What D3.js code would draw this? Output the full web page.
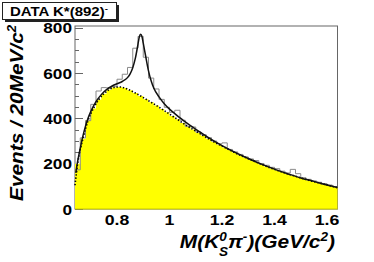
<!DOCTYPE html>
<html>
<head>
<meta charset="utf-8">
<script src="https://cdn.jsdelivr.net/npm/d3@7"></script>
<style>
  html, body { margin: 0; padding: 0; background: #fff; }
  svg { display: block; font-family: "Liberation Sans", Arial, sans-serif; }
</style>
</head>
<body>
<div id="chart"></div>
<script>
// 20 MeV bins, lower edges (GeV/c^2)
const binLow = [0.64, 0.66, 0.68, 0.70, 0.72, 0.74, 0.76, 0.78, 0.80, 0.82,
                0.84, 0.86, 0.88, 0.90, 0.92, 0.94, 0.96, 0.98, 1.00, 1.02,
                1.04, 1.06, 1.08, 1.10, 1.12, 1.14, 1.16, 1.18, 1.20, 1.22,
                1.24, 1.26, 1.28, 1.30, 1.32, 1.34, 1.36, 1.38, 1.40, 1.42,
                1.44, 1.46, 1.48, 1.50, 1.52, 1.54, 1.56, 1.58, 1.60, 1.62];
const binWidth = 0.02;

// data: events per bin
const counts = [173, 314, 390, 462, 521, 536, 535, 542, 573, 595,
                625, 710, 762, 670, 578, 530, 484, 449, 427, 436,
                392, 365, 362, 340, 328, 315, 300, 288, 292, 263,
                252, 241, 230, 221, 214, 201, 193, 184, 178, 167,
                159, 175, 156, 138, 131, 124, 118, 112, 106, 99];

// background fit (dotted, yellow): end points + bin centres
const bgMass = [0.64, 0.65, 0.67, 0.69, 0.71, 0.73, 0.75, 0.77, 0.79, 0.81, 0.83,
                0.85, 0.87, 0.89, 0.91, 0.93, 0.95, 0.97, 0.99, 1.01, 1.03,
                1.05, 1.07, 1.09, 1.11, 1.13, 1.15, 1.17, 1.19, 1.21, 1.23,
                1.25, 1.27, 1.29, 1.31, 1.33, 1.35, 1.37, 1.39, 1.41, 1.43,
                1.45, 1.47, 1.49, 1.51, 1.53, 1.55, 1.57, 1.59, 1.61, 1.63, 1.64];
const bgValue = [105, 200, 310, 392, 444, 482, 509, 527, 537, 539, 534,
                 524, 512, 499, 485, 471, 457, 442, 427, 411, 396,
                 380, 365, 351, 337, 323, 309, 296, 284, 272, 260,
                 248, 237, 227, 217, 207, 197, 188, 179, 171, 163,
                 155, 148, 141, 134, 127, 121, 115, 109, 103, 97, 94];

// total fit, signal + background (solid)
const fitMass = [0.643, 0.65, 0.66, 0.67, 0.68, 0.69, 0.70, 0.72, 0.74, 0.76,
                 0.78, 0.80, 0.82, 0.84, 0.85, 0.86, 0.87, 0.88, 0.885, 0.89,
                 0.895, 0.90, 0.91, 0.92, 0.93, 0.94, 0.96, 0.98, 1.00, 1.02,
                 1.04, 1.06, 1.08, 1.10, 1.12, 1.15, 1.20, 1.25, 1.30, 1.35,
                 1.40, 1.45, 1.50, 1.55, 1.60, 1.64];
const fitValue = [160, 210, 268, 322, 366, 402, 430, 474, 505, 527,
                  542, 553, 563, 580, 597, 624, 666, 728, 760, 772,
                  762, 732, 670, 610, 566, 534, 495, 465, 441, 421,
                  402, 385, 368, 352, 337, 314, 280, 250, 223, 198,
                  176, 156, 137, 122, 106, 95];

const xTicks = [0.8, 1, 1.2, 1.4, 1.6];
const xTickLabels = ["0.8", "1", "1.2", "1.4", "1.6"];
const yTicks = [0, 200, 400, 600, 800];
const yTickLabels = ["0", "200", "400", "600", "800"];

(function() {
  let W = 374, H = 262;
  let frame = { left: 75, right: 337.5, top: 26, bottom: 209 };

  let x = d3.scaleLinear().domain([0.64, 1.64]).range([frame.left, frame.right]);
  let y = d3.scaleLinear().domain([0, 808]).range([frame.bottom, frame.top]);

  let svg = d3.select("#chart").append("svg")
    .attr("width", W)
    .attr("height", H);

  // stretched text helper: g carries position + horizontal stretch
  function label(parent, tx, ty, sx, anchor, size, style) {
    let g = parent.append("g")
      .attr("transform", "translate(" + tx + "," + ty + ") scale(" + sx + ",1)");
    return g.append("text")
      .attr("text-anchor", anchor)
      .style("font-size", size + "px")
      .style("font-weight", "bold")
      .style("font-style", style || "normal")
      .attr("fill", "#000");
  }

  // frame
  svg.append("rect")
    .attr("x", frame.left).attr("y", frame.top)
    .attr("width", frame.right - frame.left)
    .attr("height", frame.bottom - frame.top)
    .attr("fill", "none")
    .attr("stroke", "#666")
    .attr("stroke-width", 1);

  // y ticks, inside the frame
  let minor = d3.range(50, 808, 50).filter(v => v % 200 != 0);
  svg.append("g").selectAll("line.minor").data(minor).enter().append("line")
    .attr("x1", frame.left).attr("x2", frame.left + 4)
    .attr("y1", d => Math.round(y(d)) + 0.5).attr("y2", d => Math.round(y(d)) + 0.5)
    .attr("stroke", "#666");
  svg.append("g").selectAll("line.major").data(yTicks).enter().append("line")
    .attr("x1", frame.left).attr("x2", frame.left + 8)
    .attr("y1", d => Math.round(y(d)) + 0.5).attr("y2", d => Math.round(y(d)) + 0.5)
    .attr("stroke", "#666");

  // background as filled histogram
  let bgBins = binLow.map((b, i) => [b, bgValue[i + 1]]);
  bgBins.push([binLow[binLow.length - 1] + binWidth, bgValue[bgValue.length - 2]]);
  svg.append("path")
    .datum(bgBins)
    .attr("fill", "#ffff00")
    .attr("stroke", "none")
    .attr("d", d3.area()
      .curve(d3.curveStepAfter)
      .x(d => x(d[0]))
      .y0(y(0))
      .y1(d => y(d[1])));
  svg.append("line")
    .attr("x1", frame.left).attr("x2", frame.right)
    .attr("y1", frame.bottom).attr("y2", frame.bottom)
    .attr("stroke", "#c9c900");

  // data histogram outline
  let hist = binLow.map((b, i) => [b, counts[i]]);
  hist.push([binLow[binLow.length - 1] + binWidth, counts[counts.length - 1]]);
  svg.append("path")
    .datum(hist)
    .attr("fill", "none")
    .attr("stroke", "#8a8a8a")
    .attr("stroke-width", 1)
    .attr("d", d3.line().curve(d3.curveStepAfter).x(d => x(d[0])).y(d => y(d[1])));

  // background fit, dotted
  svg.append("path")
    .datum(bgMass.map((m, i) => [m, bgValue[i]]))
    .attr("fill", "none")
    .attr("stroke", "#000")
    .attr("stroke-width", 1.6)
    .attr("stroke-dasharray", "1.4 1.8")
    .attr("d", d3.line().curve(d3.curveMonotoneX).x(d => x(d[0])).y(d => y(d[1])));

  // total fit, solid
  svg.append("path")
    .datum(fitMass.map((m, i) => [m, fitValue[i]]))
    .attr("fill", "none")
    .attr("stroke", "#111")
    .attr("stroke-width", 1.5)
    .attr("d", d3.line().curve(d3.curveMonotoneX).x(d => x(d[0])).y(d => y(d[1])));

  // tick labels
  yTicks.forEach(function(v, i) {
    label(svg, 72, y(v) + 5.5, 1.15, "end", 15).text(yTickLabels[i]);
  });
  xTicks.forEach(function(v, i) {
    label(svg, x(v), 225, 1.18, "middle", 15).text(xTickLabels[i]);
  });

  // x title: M(K^0_S pi^-)(GeV/c^2)
  let xt = label(svg, 335, 248, 1.13, "end", 18.5, "italic");
  xt.append("tspan").text("M(K");
  xt.append("tspan").attr("dy", -7).style("font-size", "12px").text("0");
  xt.append("tspan").attr("dx", -7).attr("dy", 15).style("font-size", "12px").text("S");
  xt.append("tspan").attr("dy", -8).text("\u03c0");
  xt.append("tspan").attr("dy", -7).style("font-size", "12px").text("-");
  xt.append("tspan").attr("dy", 7).text(")(GeV/c");
  xt.append("tspan").attr("dy", -7).style("font-size", "12px").text("2");
  xt.append("tspan").attr("dy", 7).text(")");

  // y title, rotated
  let yg = svg.append("g").attr("transform", "translate(23,25) rotate(-90)");
  let yt = yg.append("text")
    .attr("text-anchor", "end")
    .style("font-size", "19px")
    .style("font-weight", "bold")
    .style("font-style", "italic")
    .attr("fill", "#000");
  yt.append("tspan").text("Events / 20MeV/c");
  yt.append("tspan").attr("dy", -7).style("font-size", "12px").text("2");
  let ylen = yt.node().getComputedTextLength();
  yg.attr("transform", "translate(23,25) rotate(-90) scale(" + (176 / ylen) + ",1)");

  // title box with shadow
  svg.append("rect")
    .attr("x", 5).attr("y", 5).attr("width", 114).attr("height", 17)
    .attr("fill", "#222");
  svg.append("rect")
    .attr("x", 2.5).attr("y", 2.5).attr("width", 114).attr("height", 17)
    .attr("fill", "#fff")
    .attr("stroke", "#222")
    .attr("stroke-width", 1);
  let tt = label(svg, 10, 16, 1.2, "start", 12.5);
  tt.append("tspan").text("DATA K*(892)");
  tt.append("tspan").attr("dy", -5).style("font-size", "8px").text("-");
})();
</script>
</body>
</html>
